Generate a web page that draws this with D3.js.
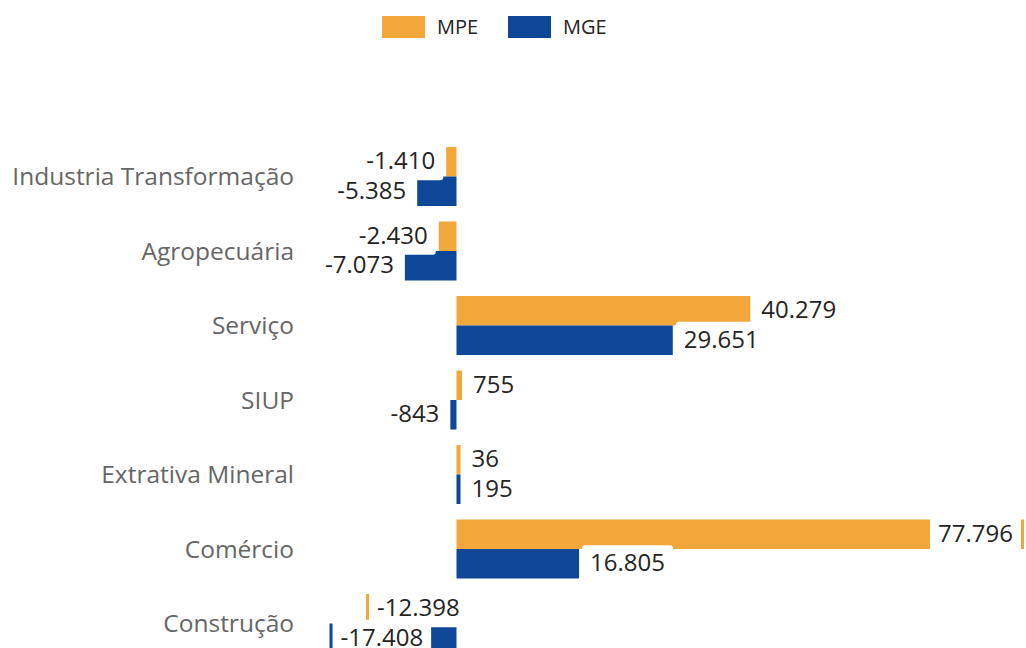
<!DOCTYPE html>
<html>
<head>
<meta charset="utf-8">
<script src="https://cdn.jsdelivr.net/npm/d3@7"></script>
<style>
  body{margin:0;background:#fff;overflow:hidden;}
  svg{display:block;font-family:"Open Sans","Noto Sans",sans-serif;}
</style>
</head>
<body>
<div class="maintable"></div>
<script>
// dados
var categories = ["Industria Transformação","Agropecuária","Serviço","SIUP","Extrativa Mineral","Comércio","Construção"];
var seriesNames = ["MPE","MGE"];
var mpe = [-1410,-2430,40279,755,36,77796,-12398];
var mge = [-5385,-7073,29651,-843,195,16805,-17408];
var colors = ["#F2A73B","#0E4698"];

var W = 1026, H = 648;
var plotLeft = 329.5, plotRight = 1024;
var labelLimitLeft = 300; // até onde o rótulo pode ir fora da barra
var minBar = 4;           // largura mínima visível da barra

// formato pt-BR (ponto como separador de milhar, hífen como sinal)
var fmt = d3.formatLocale({decimal:",",thousands:".",grouping:[3],currency:["R$",""],minus:"-"}).format(",d");

var rows = [];
categories.forEach(function(c,i){
  rows.push({cat:c, s:"MPE", v:mpe[i]});
  rows.push({cat:c, s:"MGE", v:mge[i]});
});

var svg = d3.select(".maintable").append("svg")
  .attr("width",W)
  .attr("height",H);

var x = d3.scaleLinear()
  .domain([d3.min(mpe.concat(mge)), d3.max(mpe.concat(mge))])
  .range([plotLeft, plotRight]);

var y = d3.scaleBand()
  .domain(categories)
  .range([139.25, 660.75])
  .paddingInner(0.208)
  .paddingOuter(0.104);

var ys = d3.scaleBand()
  .domain(seriesNames)
  .range([0, y.bandwidth()]);

var color = d3.scaleOrdinal().domain(seriesNames).range(colors);

var x0 = x(0);
// extremidade da barra (com largura mínima)
function barEnd(v){
  var len = Math.max(Math.abs(x(v) - x0), minBar);
  return v >= 0 ? x0 + len : x0 - len;
}

// legenda
var legend = svg.append("g").attr("transform","translate(382,16)");
seriesNames.forEach(function(s,i){
  var g = legend.append("g").attr("transform","translate("+(i*126)+",0)");
  g.append("rect")
    .attr("width",43)
    .attr("height",22)
    .attr("fill",color(s));
  g.append("text")
    .attr("x",55)
    .attr("y",18)
    .attr("font-size","20px")
    .attr("fill","#252423")
    .text(s);
});

// rótulos das categorias
svg.append("g")
  .selectAll("text")
  .data(categories)
  .join("text")
  .attr("x",294)
  .attr("y",function(d){ return y(d) + y.bandwidth()/2 + 8.5; })
  .attr("text-anchor","end")
  .attr("font-size","24.5px")
  .attr("fill","#666666")
  .text(function(d){ return d; });

// barras
svg.append("g")
  .selectAll("rect")
  .data(rows)
  .join("rect")
  .attr("x",function(d){ return Math.min(barEnd(d.v), x0); })
  .attr("y",function(d){ return y(d.cat) + ys(d.s); })
  .attr("width",function(d){ return Math.abs(barEnd(d.v) - x0); })
  .attr("height",ys.bandwidth())
  .attr("fill",function(d){ return color(d.s); });

// rótulos de dados (fundo branco)
var labels = svg.append("g");
rows.forEach(function(d){
  var g = labels.append("g");
  var cy = y(d.cat) + ys(d.s) + ys.bandwidth()/2;
  var xe = barEnd(d.v);
  var box = g.append("rect")
    .attr("fill","#fff")
    .attr("rx",3);
  var t = g.append("text")
    .attr("y",cy + 7.5)
    .attr("font-size","24px")
    .attr("fill","#252423")
    .text(fmt(d.v));
  var w = t.node().getComputedTextLength();
  var off = 11, tx, anchor;
  if(d.v >= 0){
    if(xe + off + w <= plotRight){ tx = xe + off; anchor = "start"; }
    else { tx = xe - off; anchor = "end"; }
  }else{
    if(xe - off - w >= labelLimitLeft){ tx = xe - off; anchor = "end"; }
    else { tx = xe + off; anchor = "start"; }
  }
  t.attr("x",tx).attr("text-anchor",anchor);
  var left = anchor == "start" ? tx : tx - w;
  box.attr("x",left - 8)
    .attr("y",cy - 18.5)
    .attr("width",w + 16)
    .attr("height",37);
});
</script>
</body>
</html>
